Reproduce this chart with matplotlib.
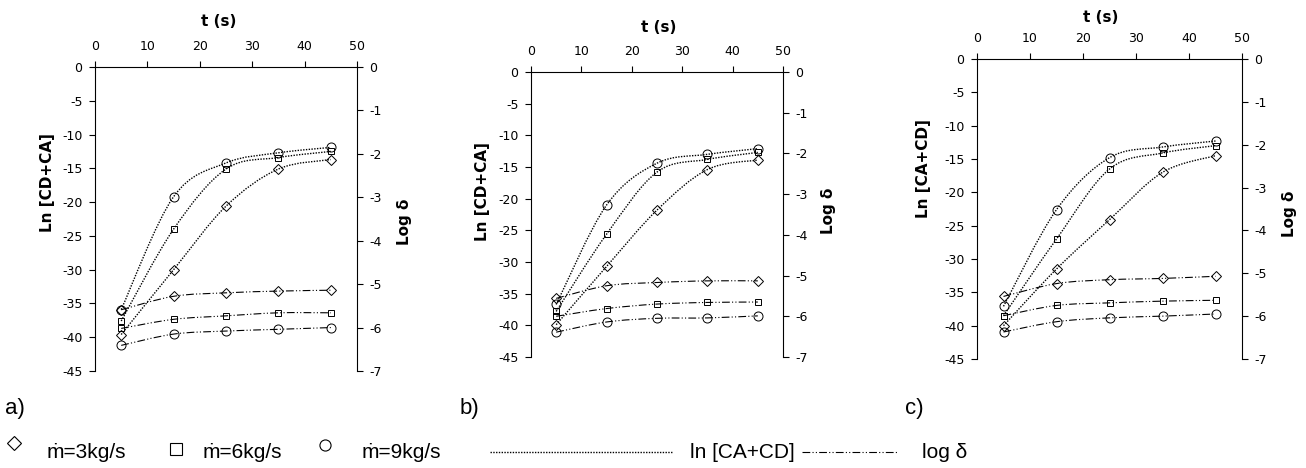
import matplotlib
matplotlib.use('Agg')
import matplotlib.pyplot as plt
from matplotlib.path import Path
from matplotlib.patches import PathPatch
from matplotlib.lines import Line2D
import numpy as np

plt.rcParams['axes.unicode_minus'] = False
plt.rcParams['font.family'] = ['DejaVu Sans']

#======================================================================
# Dados ===============================================================
#======================================================================

t = [5, 15, 25, 35, 45]

# ln [CA+CD] (eixo da esquerda) ---------------------------------------
ln_a_3 = [-39.6, -30.0, -20.6, -15.1, -13.7]
ln_a_6 = [-37.6, -24.0, -15.1, -13.4, -12.5]
ln_a_9 = [-35.9, -19.2, -14.2, -12.7, -11.9]

ln_b_3 = [-39.9, -30.7, -21.8, -15.4, -13.9]
ln_b_6 = [-37.8, -25.6, -15.8, -13.8, -12.7]
ln_b_9 = [-36.7, -21.0, -14.4, -13.0, -12.1]

ln_c_3 = [-40.0, -31.5, -24.1, -17.0, -14.5]
ln_c_6 = [-38.5, -27.0, -16.5, -14.1, -13.0]
ln_c_9 = [-37.1, -22.6, -14.8, -13.2, -12.3]

# log delta (eixo da direita) -----------------------------------------
log_a_3 = [-5.59, -5.28, -5.20, -5.16, -5.14]
log_a_6 = [-6.02, -5.81, -5.73, -5.66, -5.66]
log_a_9 = [-6.41, -6.15, -6.08, -6.04, -6.00]

log_b_3 = [-5.56, -5.25, -5.17, -5.13, -5.13]
log_b_6 = [-6.00, -5.81, -5.70, -5.66, -5.65]
log_b_9 = [-6.39, -6.14, -6.05, -6.04, -5.99]

log_c_3 = [-5.54, -5.24, -5.15, -5.12, -5.07]
log_c_6 = [-5.99, -5.75, -5.69, -5.65, -5.63]
log_c_9 = [-6.37, -6.13, -6.04, -6.00, -5.95]

rotulos_y = ['Ln [CD+CA]', 'Ln [CD+CA]', 'Ln [CA+CD]']
rotulos_painel = ['a)', 'b)', 'c)']
legenda_m = ['ṁ=3kg/s', 'ṁ=6kg/s', 'ṁ=9kg/s']

#======================================================================
# Parametros de layout (pixels) =======================================
#======================================================================

W, H = 1306, 468

def caixa(l, t_, r, b):
    return [l/W, 1 - b/H, (r - l)/W, (b - t_)/H]

paineis = [
    dict(box=(95, 67, 357, 371),   ln=[ln_a_3, ln_a_6, ln_a_9], lg=[log_a_3, log_a_6, log_a_9],
         xl=(0.473, 1.15), yl=(-0.183, 0.62), yr=(1.183, 0.49), tag=(5, 414)),
    dict(box=(531, 72, 783, 357),  ln=[ln_b_3, ln_b_6, ln_b_9], lg=[log_b_3, log_b_6, log_b_9],
         xl=(0.505, 1.155), yl=(-0.193, 0.582), yr=(1.18, 0.512), tag=(460, 414)),
    dict(box=(977, 59, 1242, 359), ln=[ln_c_3, ln_c_6, ln_c_9], lg=[log_c_3, log_c_6, log_c_9],
         xl=(0.465, 1.14), yl=(-0.203, 0.634), yr=(1.178, 0.484), tag=(905, 414)),
]

marcadores = ['D', 's', 'o']
tam_marc   = [5.5, 5.0, 6.5]
pont = (0, (1, 1.0))
traco = (0, (7, 2, 1, 2, 1, 2))

#======================================================================
# Curva suavizada (estilo Excel) ======================================
#======================================================================

def curva_suave(ax, x, y, estilo, lw):
    x = np.asarray(x, float); y = np.asarray(y, float)
    n = len(x)
    verts = [(x[0], y[0])]
    codes = [Path.MOVETO]
    for i in range(n - 1):
        i0 = max(i - 1, 0); i3 = min(i + 2, n - 1)
        c1 = (x[i] + (x[i+1] - x[i0])/6, y[i] + (y[i+1] - y[i0])/6)
        c2 = (x[i+1] - (x[i3] - x[i])/6, y[i+1] - (y[i3] - y[i])/6)
        verts += [c1, c2, (x[i+1], y[i+1])]
        codes += [Path.CURVE4]*3
    ax.add_patch(PathPatch(Path(verts, codes), fill=False, ls=estilo, lw=lw, ec='black'))

#======================================================================
# Plot ================================================================
#======================================================================

fig = plt.figure(figsize=(W/100, H/100), dpi=100)

for k, p in enumerate(paineis):
    ax = fig.add_axes(caixa(*p['box']))
    ax2 = ax.twinx()

    ax.set_xlim(0, 50); ax.set_ylim(-45, 0)
    ax2.set_ylim(-7, 0)
    ax.set_xticks(range(0, 51, 10))
    ax.set_yticks(range(-45, 1, 5))
    ax2.set_yticks(range(-7, 1, 1))

    ax.xaxis.tick_top()
    ax.xaxis.set_label_position('top')
    for s in ['bottom', 'right']: ax.spines[s].set_visible(False)
    for s in ['bottom', 'top', 'left']: ax2.spines[s].set_visible(False)
    for s in ['top', 'left']: ax.spines[s].set_linewidth(0.8)
    ax2.spines['right'].set_linewidth(0.8)

    ax.tick_params(axis='x', direction='out', length=4, width=0.8, pad=6, labelsize=9)
    ax.tick_params(axis='y', direction='out', length=4, width=0.8, pad=5, labelsize=9)
    ax2.tick_params(axis='y', direction='out', length=4, width=0.8, pad=5, labelsize=9)

    for j in range(3):
        curva_suave(ax, t, p['ln'][j], pont, 1.0)
        ax.plot(t, p['ln'][j], ls='none', marker=marcadores[j], ms=tam_marc[j],
                mfc='none', mec='black', mew=0.7)
        curva_suave(ax2, t, p['lg'][j], traco, 0.8)
        ax2.plot(t, p['lg'][j], ls='none', marker=marcadores[j], ms=tam_marc[j],
                 mfc='none', mec='black', mew=0.7)

    ax.set_xlabel('t (s)', fontsize=11, fontweight='bold')
    ax.xaxis.set_label_coords(*p['xl'])
    ax.xaxis.label.set_va('center')
    ax.set_ylabel(rotulos_y[k], fontsize=11, fontweight='bold')
    ax.yaxis.set_label_coords(*p['yl'])
    ax.yaxis.label.set_va('center')
    ax2.set_ylabel('Log δ', fontsize=11, fontweight='bold', rotation=90)
    ax2.yaxis.set_label_coords(*p['yr'])
    ax2.yaxis.label.set_va('center')

    fig.text(p['tag'][0]/W, 1 - p['tag'][1]/H, rotulos_painel[k], fontsize=16,
             family=['Liberation Sans', 'DejaVu Sans'], va='baseline')

#======================================================================
# Legenda (manual) ====================================================
#======================================================================

leg = fig.add_axes([0, 0, 1, 1], facecolor='none')
leg.set_xlim(0, W); leg.set_ylim(H, 0); leg.axis('off')

fonte_leg = dict(fontsize=15, family=['Liberation Sans', 'DejaVu Sans'], va='baseline')

pos_marc = [(14, 443), (176, 449), (325, 445)]
pos_txt  = [47, 203, 362]
for j in range(3):
    leg.add_line(Line2D([pos_marc[j][0]], [pos_marc[j][1]], marker=marcadores[j],
                        ms=[7.5, 8, 8][j], mfc='none', mec='black', mew=0.8, ls='none'))
    leg.text(pos_txt[j], 458, legenda_m[j], **fonte_leg)

leg.add_line(Line2D([490, 672], [452, 452], color='black', lw=1.0, ls=pont))
leg.text(690, 458, 'ln [CA+CD]', **fonte_leg)
leg.add_line(Line2D([802, 898], [452, 452], color='black', lw=0.8, ls=traco))
leg.text(922, 458, 'log δ', **fonte_leg)

plt.savefig('out.png', dpi=100)
